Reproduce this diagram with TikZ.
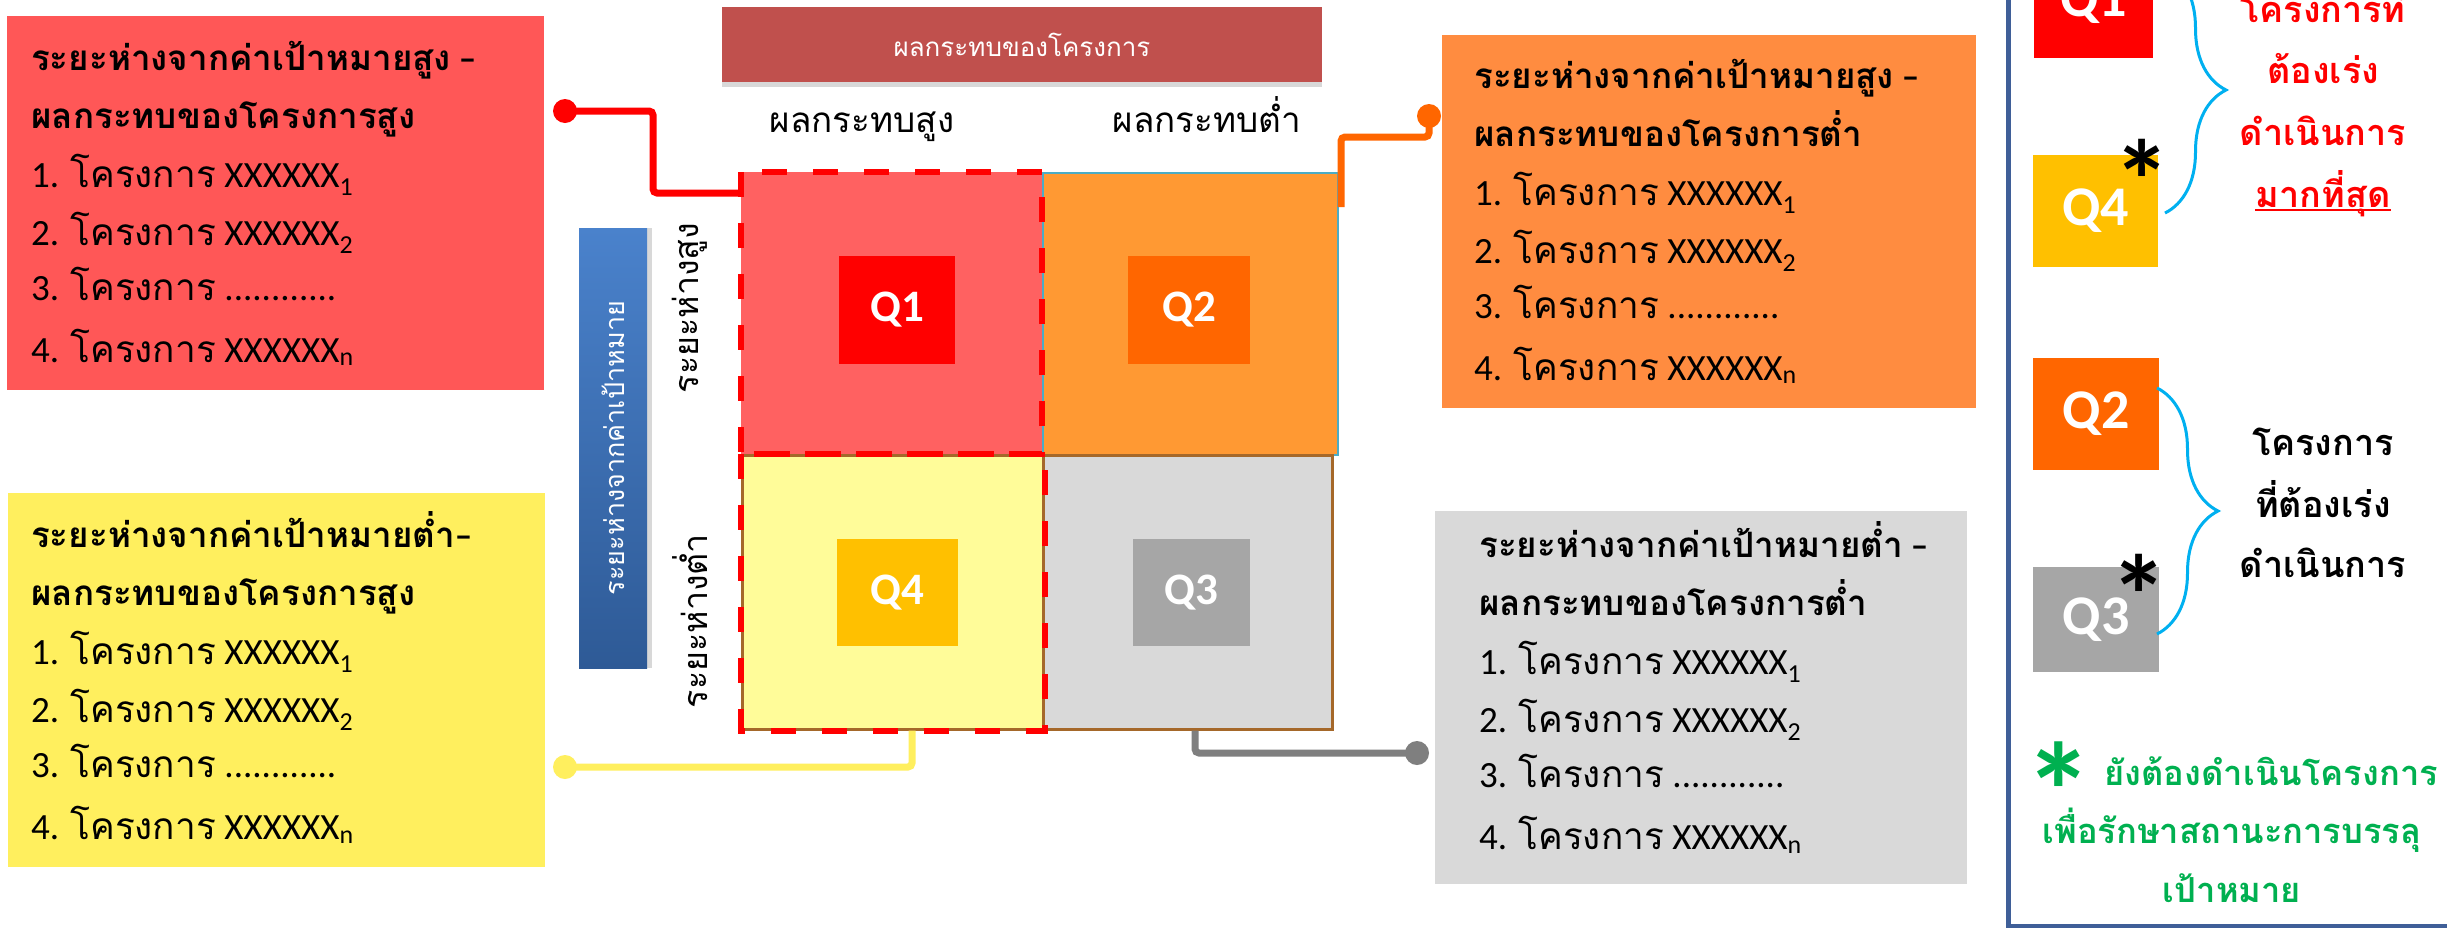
\documentclass[tikz,border=0pt]{standalone}
\usepackage{fontspec}
\setmainfont{Carlito}
\newfontfamily\thf[Script=Thai]{Loma}
\usetikzlibrary{calc,shadows,decorations.pathreplacing}
\newcommand\thtxt[1]{{\thf #1}}
\newcommand\fsz[1]{\fontsize{#1}{#1}\selectfont}
\definecolor{cRedBox}{HTML}{FF5757}
\definecolor{cYelBox}{HTML}{FFEF5E}
\definecolor{cOrBox}{HTML}{FF8C40}
\definecolor{cGrBox}{HTML}{D9D9D9}
\definecolor{cHdr}{HTML}{C0504D}
\definecolor{cQa}{HTML}{FF6161}
\definecolor{cQb}{HTML}{FF9933}
\definecolor{cQc}{HTML}{D9D9D9}
\definecolor{cQd}{HTML}{FFFC99}
\definecolor{iQa}{HTML}{FF0000}
\definecolor{iQb}{HTML}{FF6600}
\definecolor{iQc}{HTML}{A6A6A6}
\definecolor{iQd}{HTML}{FFC000}
\definecolor{cBlueL}{HTML}{4A82CC}
\definecolor{cBlueD}{HTML}{2E5A96}
\definecolor{cBrace}{HTML}{00B0F0}
\definecolor{cGreen}{HTML}{00B050}
\definecolor{cPanel}{HTML}{3F5F98}
\definecolor{cBrown}{HTML}{A5682A}
\definecolor{cQbBorder}{HTML}{4BACC6}
\definecolor{cConnY}{HTML}{FFEF5E}
\definecolor{cConnG}{HTML}{7F7F7F}
\tikzset{
  hd/.style={anchor=base west, inner sep=0pt, font=\fsz{35}\bfseries},
  it/.style={anchor=base west, inner sep=0pt, font=\fsz{37}},
  box/.style={draw=none, inner sep=0pt, anchor=north west},
  cell/.style={inner sep=0pt, anchor=north west},
  inner/.style={inner sep=0pt, text=white, font=\fsz{45}\bfseries},
  legq/.style={inner sep=0pt, text=white, font=\fsz{56}\bfseries},
  dashq/.style={draw=red, line width=6pt, dash pattern=on 25pt off 26pt},
  conn/.style={line width=7pt, rounded corners=4pt},
  dotn/.style={circle, inner sep=0pt, minimum size=24pt},
  lab/.style={anchor=base, inner sep=0pt, font=\fsz{35}\thf},
  legt/.style={anchor=base, inner sep=0pt, font=\fsz{36}\thf\bfseries},
  greent/.style={anchor=base, inner sep=0pt, text=cGreen, font=\fsz{34.5}\thf\bfseries},
  star/.style={anchor=north, inner sep=0pt, font=\fsz{115}\bfseries},
  bracep/.style={draw=cBrace, line width=3pt, decorate, decoration={brace, amplitude=61pt}},
}
\newcommand\listblock[5]{%
  \node[hd] (#1h1) at (#2,#3) {#4};
  \node[hd] (#1h2) at (#2,#3+58) {#5};
  \node[it] (#1i1) at (#2,#3+117) {1. \thtxt{โครงการ} XXXXXX\textsubscript{1}};
  \node[it] (#1i2) at (#2,#3+175) {2. \thtxt{โครงการ} XXXXXX\textsubscript{2}};
  \node[it] (#1i3) at (#2,#3+230) {3. \thtxt{โครงการ} ............};
  \node[it] (#1i4) at (#2,#3+292) {4. \thtxt{โครงการ} XXXXXX\textsubscript{n}};
}
\begin{document}
\begin{tikzpicture}[x=1pt,y=-1pt]
\useasboundingbox (0,0) rectangle (2447,927);
\clip (0,0) rectangle (2447,927);
\fill[white] (0,0) rectangle (2447,927);

% list boxes
\node[box, fill=cRedBox, minimum width=537pt, minimum height=374pt] (redbox) at (7,16) {};
\node[box, fill=cYelBox, minimum width=537pt, minimum height=374pt] (yelbox) at (8,493) {};
\node[box, fill=cOrBox, minimum width=534pt, minimum height=373pt] (orbox) at (1442,35) {};
\node[box, fill=cGrBox, minimum width=532pt, minimum height=373pt] (grbox) at (1435,511) {};

\listblock{r}{31}{70}{\thtxt{ระยะห่างจากค่าเป้าหมายสูง} –}{\thtxt{ผลกระทบของโครงการสูง}}
\listblock{y}{31}{547}{\thtxt{ระยะห่างจากค่าเป้าหมายต่ำ}–}{\thtxt{ผลกระทบของโครงการสูง}}
\listblock{o}{1474}{88}{\thtxt{ระยะห่างจากค่าเป้าหมายสูง} –}{\thtxt{ผลกระทบของโครงการต่ำ}}
\listblock{g}{1479}{557}{\thtxt{ระยะห่างจากค่าเป้าหมายต่ำ} –}{\thtxt{ผลกระทบของโครงการต่ำ}}

% header
\node[fill=cHdr, minimum width=600pt, minimum height=75pt, inner sep=0pt, text=white,
      font=\fsz{26}\thf, drop shadow={shadow xshift=0pt, shadow yshift=-5pt, opacity=.3}]
      (hdr) at (1022,44.5) {ผลกระทบของโครงการ};
\node[lab] (ch1) at (862,132) {ผลกระทบสูง};
\node[lab] (ch2) at (1207,132) {ผลกระทบต่ำ};

% blue bar
\node[rotate=90, minimum width=440pt, minimum height=68pt, inner sep=0pt,
      top color=cBlueL, bottom color=cBlueD, text=white, font=\fsz{27}\thf,
      drop shadow={shadow xshift=5pt, shadow yshift=0pt, opacity=.3}]
      (bbar) at (613,448) {ระยะห่างจากค่าเป้าหมาย};
\node[rotate=90, inner sep=0pt, font=\fsz{34}\thf] (rh1) at (690,308) {ระยะห่างสูง};
\node[rotate=90, inner sep=0pt, font=\fsz{34}\thf] (rh2) at (690,621) {ระยะห่างต่ำ};

% quadrant cells
\node[cell, fill=cQa, minimum width=301pt, minimum height=282pt] (q1) at (741,172) {};
\node[cell, fill=cQb, draw=cQbBorder, line width=2pt, minimum width=295pt, minimum height=282pt] (q2) at (1042,172) {};
\node[cell, fill=cQd, draw=cBrown, line width=2.5pt, minimum width=301pt, minimum height=274pt] (q4) at (741,454) {};
\node[cell, fill=cQc, draw=cBrown, line width=2.5pt, minimum width=289pt, minimum height=274pt] (q3) at (1042,454) {};
\draw[dashq] (q4.north west) rectangle (q4.south east);
\draw[dashq] (q1.north west) rectangle (q1.south east);

\node[inner, fill=iQa, minimum width=116pt, minimum height=108pt] (iq1) at (897,310) {Q1};
\node[inner, fill=iQb, minimum width=122pt, minimum height=108pt] (iq2) at (1189,310) {Q2};
\node[inner, fill=iQd, minimum width=121pt, minimum height=107pt] (iq4) at (897.5,592.5) {Q4};
\node[inner, fill=iQc, minimum width=117pt, minimum height=107pt] (iq3) at (1191.5,592.5) {Q3};

% connectors
\node[dotn, fill=red] (dR) at (565,111) {};
\node[dotn, fill=iQb] (dO) at (1429,116) {};
\node[dotn, fill=cConnY] (dY) at (565,767) {};
\node[dotn, fill=cConnG] (dG) at (1417,753) {};
\draw[conn, red] (dR.center) -| ($(q1.north west)+(-88,21)$) -- ($(q1.north west)+(0,21)$);
\draw[conn, iQb] (dO.center) |- ($(q2.north east)+(2,-35)$) -- ($(q2.north east)+(2,35)$);
\draw[conn, cConnY] (dY.center) -| ($(q4.south west)+(171,0)$);
\draw[conn, cConnG] ($(q3.south west)+(153,0)$) |- (dG.center);

% right panel
\draw[cPanel, line width=5pt] (2008,-10) -- (2008,926) -- (2460,926);
\node[legq, fill=iQa, minimum width=119pt, minimum height=112pt] (lq1) at (2093.5,2) {Q1};
\node[legq, fill=iQd, minimum width=125pt, minimum height=112pt] (lq4) at (2095.5,211) {Q4};
\node[legq, fill=iQb, minimum width=126pt, minimum height=112pt] (lq2) at (2096,414) {Q2};
\node[legq, fill=iQc, minimum width=126pt, minimum height=105pt] (lq3) at (2096,619.5) {Q3};
\node[star] (s4) at (2142,139) {*};
\node[star] (s3) at (2139,554) {*};
\draw[bracep] (2165,-33) -- (2165,213);
\draw[bracep] (2157,388) -- (2157,634);

\node[legt, text=red] (rl1) at (2323,22) {โครงการที่};
\node[legt, text=red] (rl2) at (2323,83) {ต้องเร่ง};
\node[legt, text=red] (rl3) at (2323,145) {ดำเนินการ};
\node[legt, text=red] (rl4) at (2323,207) {มากที่สุด};
\draw[red, line width=2pt] ($(rl4.base west)+(0,3)$) -- ($(rl4.base east)+(0,3)$);
\node[legt] (bl1) at (2323,455) {โครงการ};
\node[legt] (bl2) at (2323,517) {ที่ต้องเร่ง};
\node[legt] (bl3) at (2323,577) {ดำเนินการ};

\node[greent] (gl1) at (2231,785) {{\fontspec{Carlito}\fsz{138}\bfseries\raisebox{-0.4em}[0pt][0pt]{*}} ยังต้องดำเนินโครงการ};
\node[greent] (gl2) at (2232,843) {เพื่อรักษาสถานะการบรรลุ};
\node[greent] (gl3) at (2232,902) {เป้าหมาย};
\end{tikzpicture}
\end{document}
